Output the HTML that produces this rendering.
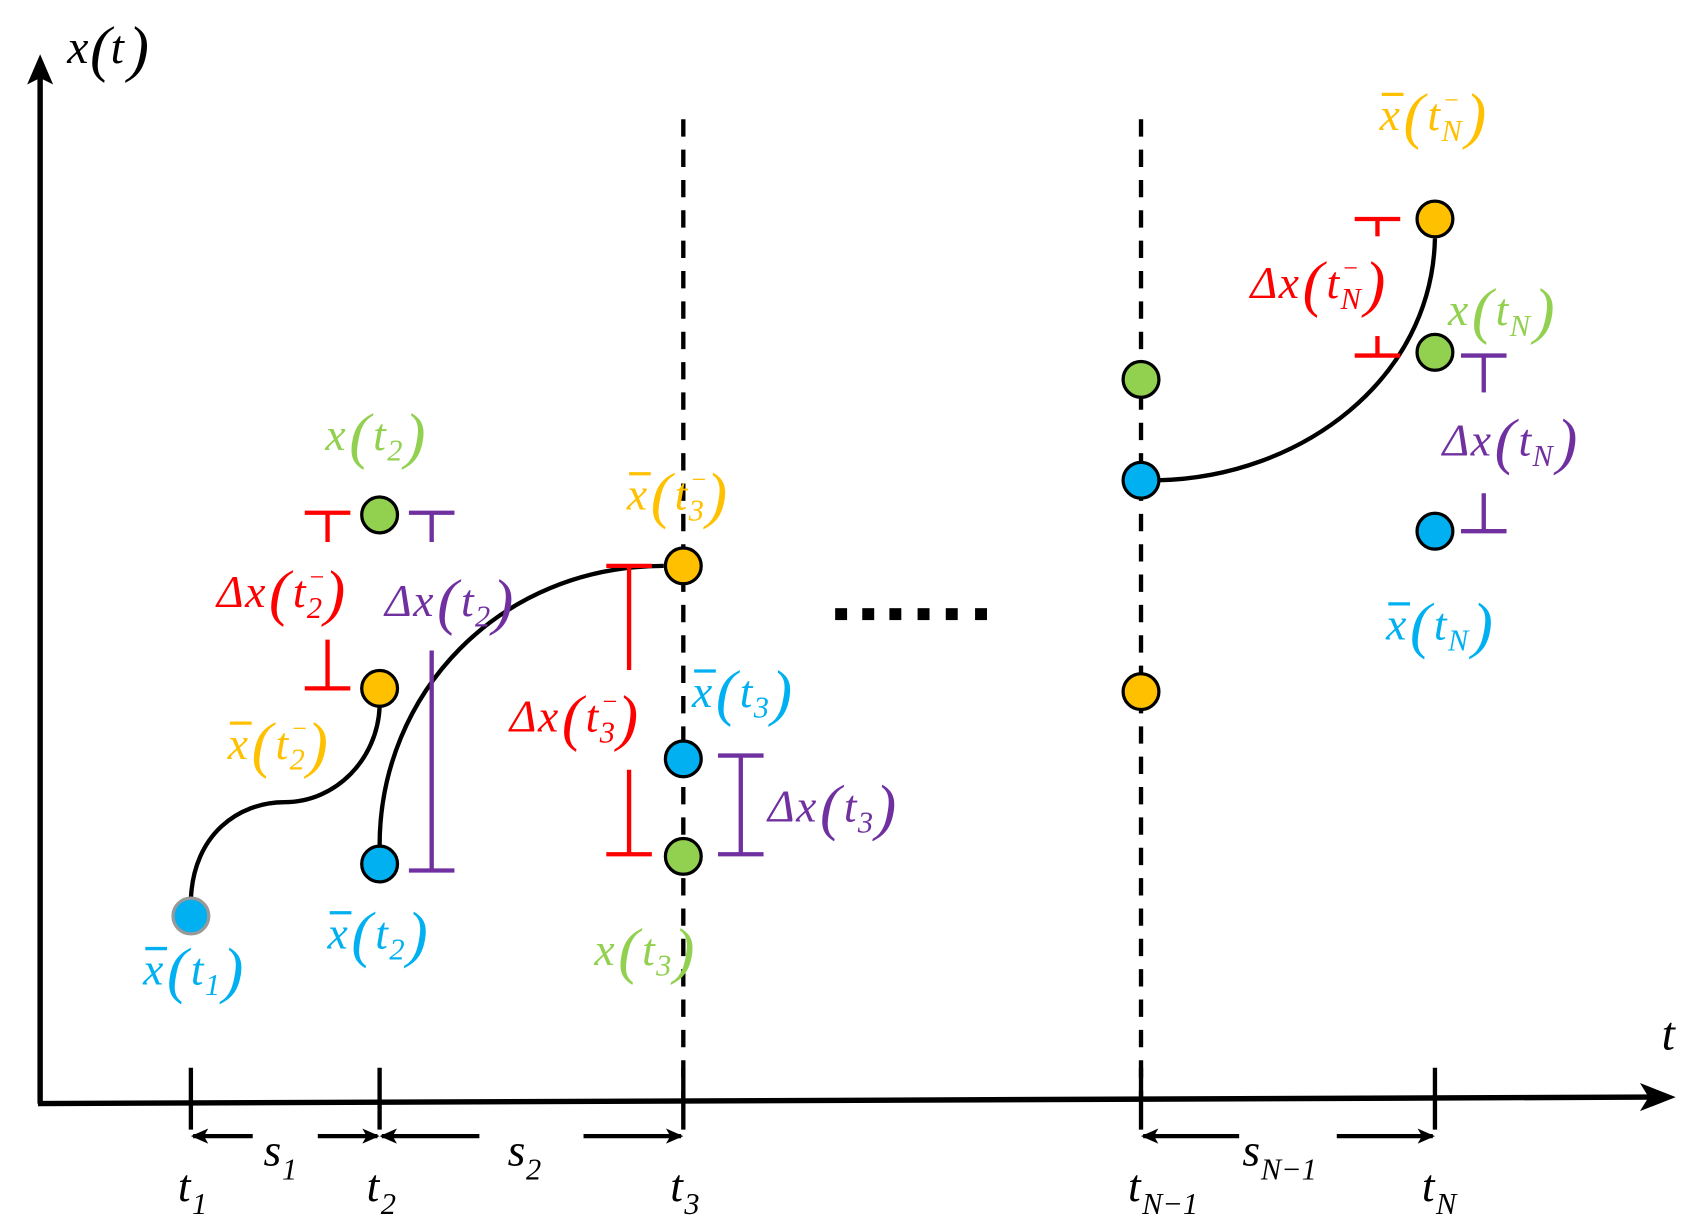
<!DOCTYPE html>
<html><head><meta charset="utf-8"><style>
html,body{margin:0;padding:0;background:#fff;}
svg{display:block;}
text{font-family:"Liberation Serif","DejaVu Serif",serif;font-style:italic;}
</style></head><body>
<svg id="fig" width="1692" height="1225" viewBox="0 0 1560 1130" preserveAspectRatio="none" xmlns="http://www.w3.org/2000/svg" font-family="Liberation Serif, serif">
<defs>
<marker id="ah" markerWidth="16" markerHeight="14" refX="14" refY="7" orient="auto" markerUnits="userSpaceOnUse"><path d="M0,0 L16,7 L0,14 L4,7 z" fill="#000"/></marker>
</defs>
<g id="axes">
<line x1="37" y1="1018" x2="37" y2="70" stroke="#000" stroke-width="5"/>
<path d="M37,50 L25,78 L37,72 L49,78 Z" fill="#000"/>
<line x1="35" y1="1018" x2="1525" y2="1012" stroke="#000" stroke-width="5"/>
<path d="M1545,1012 L1512,999 L1520,1012 L1512,1025 Z" fill="#000"/>
</g>
<g id="dash"></g>
<g id="ticks"></g>
<g id="curves" fill="none" stroke="#000" stroke-width="4">
<path d="M176,830 C178,770 220,740 262,740 C310,740 348,700 350,652"/>
<path d="M350,780 C350,640 460,522 612,522"/>
<path d="M1068,443 C1200,440 1320,350 1323,220"/>
</g>
<g id="bars"></g>
<g id="pts"></g>
<g id="dots" fill="#000">
<rect x="770" y="561" width="11" height="11"/><rect x="795" y="561" width="11" height="11"/><rect x="820" y="561" width="11" height="11"/><rect x="846" y="561" width="11" height="11"/><rect x="872" y="561" width="11" height="11"/><rect x="899" y="561" width="11" height="11"/>
</g>
<g id="labels"></g>
</svg>
<script>
const ticksX=[176,350,630,1052,1323];
const tickNames=["1","2","3","N\u22121","N"];
const spanLabels=["1","2","N\u22121"];
const dashedX=[630,1052];
const ptX=[176,350,350,350,630,630,630,1052,1052,1052,1323,1323,1323];
const ptY=[845,475,635,797,522,700,790,350,443,638,202,325,490];
const ptColor=["#00b0f0","#92d050","#ffc000","#00b0f0","#ffc000","#00b0f0","#92d050","#92d050","#00b0f0","#ffc000","#ffc000","#92d050","#00b0f0"];
const NS="http://www.w3.org/2000/svg";
function mk(t,a,p){const e=document.createElementNS(NS,t);for(const k in a)e.setAttribute(k,a[k]);p.appendChild(e);return e;}
const g=id=>document.getElementById(id);
function txt(p,x,y,s,size,col,italic){const t=mk('text',{x:x,y:y,'font-size':size,fill:col,'font-style':italic?'italic':'normal','font-family':'Liberation Serif, DejaVu Serif, serif'},p);t.textContent=s;return t;}
// y and x axis titles
(function(){const p=g('axes');
let t=txt(p,62,58,'x',44,'#000',1);
t=txt(p,83,64,'(',58,'#000',0);
t=txt(p,102,58,'t',44,'#000',1);
t=txt(p,118,64,')',58,'#000',0);
t=txt(p,1532,968,'t',44,'#000',1);})();
dashedX.forEach(x=>{const l=mk('line',{x1:x,y1:110,x2:x,y2:1015,stroke:'#000','stroke-width':4,'stroke-dasharray':'16,12'},g('dash'));

});
ticksX.forEach((x,i)=>{const l=mk('line',{x1:x,y1:985,x2:x,y2:1042,stroke:'#000','stroke-width':4},g('ticks'));


const t=txt(g('ticks'),x-12,1108,'t',42,'#000',1);


const s=txt(g('ticks'),x+1,1120,tickNames[i],28,'#000',1);

});
[[0,1],[1,2],[3,4]].forEach(([a,b],k)=>{const x1=ticksX[a],x2=ticksX[b],y=1048,m=(x1+x2)/2;
const half=k==1?48:k==2?45:30;
const l1=mk('line',{x1:m-half,y1:y,x2:x1+2,y2:y,stroke:'#000','stroke-width':4,'marker-end':'url(#ah)'},g('ticks'));


const l2=mk('line',{x1:m+half,y1:y,x2:x2-2,y2:y,stroke:'#000','stroke-width':4,'marker-end':'url(#ah)'},g('ticks'));


const lx=m-(k==2?42:k==1?22:20);
const t=txt(g('ticks'),lx,1075,'s',42,'#000',1);


const s=txt(g('ticks'),lx+17,1088,spanLabels[k],28,'#000',1);

});
const bars=[[302,473,635,500,590,'#ff0000'],[398,473,803,500,600,'#7030a0'],[580,522,788,618,710,'#ff0000'],[683,697,788,null,null,'#7030a0'],[1270,202,328,218,310,'#ff0000'],[1368,328,490,362,455,'#7030a0']];
bars.forEach(b=>{const [x,a,c,ga,gb,col]=b;const p=g('bars');
const segs=ga==null?[[a,c]]:[[a,ga],[gb,c]];
segs.forEach(s=>{const l=mk('line',{x1:x,y1:s[0],x2:x,y2:s[1],stroke:col,'stroke-width':4},p);

});
[a,c].forEach(y=>{const l=mk('line',{x1:x-21,y1:y,x2:x+21,y2:y,stroke:col,'stroke-width':4},p);

});});
ptX.forEach((x,i)=>{const c=mk('circle',{cx:x,cy:ptY[i],r:16.5,fill:ptColor[i],stroke:i==0?'#999':'#000','stroke-width':3},g('pts'));

});
// labels: x,y,color,prefix,sub,minus,bar
const labs=[[300,415,'#92d050','x','2',0,0],[200,560,'#ff0000','\u0394x','2',1,0],[355,568,'#7030a0','\u0394x','2',0,0],[210,700,'#ffc000','x','2',1,1],[302,875,'#00b0f0','x','2',0,1],[132,908,'#00b0f0','x','1',0,1],[578,470,'#ffc000','x','3',1,1],[638,652,'#00b0f0','x','3',0,1],[470,675,'#ff0000','\u0394x','3',1,0],[708,758,'#7030a0','\u0394x','3',0,0],[548,890,'#92d050','x','3',0,0],[1272,120,'#ffc000','x','N',1,1],[1153,275,'#ff0000','\u0394x','N',1,0],[1335,300,'#92d050','x','N',0,0],[1330,420,'#7030a0','\u0394x','N',0,0],[1278,590,'#00b0f0','x','N',0,1]];
labs.forEach(L=>{const [x,y,col,pre,sub,minus,bar]=L;const p=g('labels');
let cx=x;
if(pre.length>1){const d=txt(p,cx,y,'\u0394',42,col,0);cx+=26;}
let t=txt(p,cx,y,'x',42,col,1);
if(bar){const l=mk('line',{x1:cx+2,y1:y-33,x2:cx+22,y2:y-33,stroke:col,'stroke-width':3},p);

}
cx+=22;
t=txt(p,cx,y+6,'(',58,col,0);
cx+=22;
t=txt(p,cx,y,'t',42,col,1);
cx+=13;
t=txt(p,cx,y+10,sub,28,col,1);
if(minus){t=txt(p,cx+1,y-20,'\u2212',24,col,0);}
cx+=(sub=='N'?22:16);
t=txt(p,cx,y+6,')',58,col,0);});
</script>
</body></html>
